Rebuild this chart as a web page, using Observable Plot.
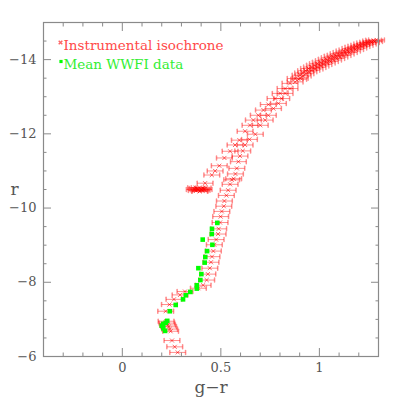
<!DOCTYPE html>
<html>
<head>
<meta charset="utf-8">
<script src="https://cdn.jsdelivr.net/npm/d3@7"></script>
<script src="https://cdn.jsdelivr.net/npm/@observablehq/plot@0.6"></script>
<style>
  html, body { margin: 0; padding: 0; background: #fff; }
</style>
</head>
<body>
<div id="chart"></div>
<script>
// Instrumental isochrone (red, with horizontal error bars)
const isoX = [
  0.281, 0.266, 0.252,
  0.245, 0.240, 0.235, 0.230, 0.226, 0.222,
  0.220, 0.239, 0.262, 0.293, 0.318, 0.386, 0.410,
  0.428, 0.434, 0.444, 0.450, 0.455, 0.462, 0.467, 0.476, 0.486, 0.489,
  0.496, 0.499, 0.505, 0.515, 0.518,
  0.528, 0.537, 0.547, 0.555, 0.565, 0.574, 0.581, 0.589, 0.597, 0.611,
  0.623, 0.645, 0.675, 0.700, 0.725, 0.741, 0.767, 0.792, 0.809, 0.826,
  0.851, 0.877, 0.895,
  0.365, 0.375, 0.380, 0.385, 0.390, 0.395, 0.400, 0.405, 0.410, 0.415, 0.372, 0.392,
  0.420, 0.454, 0.471, 0.492, 0.518, 0.547, 0.572, 0.594, 0.623, 0.648,
  0.665, 0.690, 0.716, 0.741, 0.775, 0.801, 0.826, 0.851, 0.877,
  0.902, 0.915, 0.930, 0.945, 0.960, 0.975, 0.990, 1.005, 1.020, 1.035,
  1.050, 1.065, 1.080, 1.095, 1.110, 1.125, 1.140, 1.155, 1.170, 1.185,
  1.200, 1.215, 1.230, 1.245, 1.260, 1.275, 1.290,
  0.903, 0.918, 0.932, 0.947, 0.962, 0.978, 0.993, 1.008, 1.023, 1.040,
  1.056, 1.072, 1.088, 1.104, 1.120, 1.136, 1.152, 1.168, 1.184, 1.200,
  1.216, 1.232, 1.248, 1.264, 1.280
];
const isoY = [
  -6.11, -6.26, -6.43,
  -6.68, -6.74, -6.80, -6.85, -6.90, -6.95,
  -7.22, -7.40, -7.54, -7.66, -7.75, -7.84, -7.92,
  -8.06, -8.22, -8.38, -8.54, -8.69, -8.84, -9.01, -9.15, -9.30, -9.44,
  -9.61, -9.77, -9.91, -10.05, -10.19,
  -10.34, -10.48, -10.64, -10.76, -10.79, -10.92, -11.07, -11.25, -11.40, -11.54,
  -11.70, -11.85, -11.99, -12.23, -12.37, -12.50, -12.68, -12.82, -12.95, -13.09,
  -13.22, -13.40, -13.47,
  -10.50, -10.47, -10.53, -10.49, -10.55, -10.46, -10.51, -10.48, -10.54, -10.50, -10.55, -10.45,
  -10.67, -10.89, -11.00, -11.14, -11.35, -11.53, -11.70, -11.83, -12.07, -12.23,
  -12.37, -12.50, -12.64, -12.79, -12.95, -13.09, -13.22, -13.36, -13.49,
  -13.58, -13.64, -13.70, -13.76, -13.80, -13.85, -13.89, -13.93, -13.97, -14.01,
  -14.05, -14.09, -14.12, -14.16, -14.19, -14.23, -14.26, -14.30, -14.33, -14.36,
  -14.39, -14.42, -14.45, -14.47, -14.50, -14.52, -14.53,
  -13.50, -13.56, -13.62, -13.67, -13.71, -13.75, -13.79, -13.83, -13.87, -13.91,
  -13.95, -13.99, -14.03, -14.07, -14.11, -14.15, -14.19, -14.23, -14.27, -14.31,
  -14.35, -14.39, -14.42, -14.46, -14.49
];
const isoErrHalf = 0.04;

// Mean WWFI data (green squares)
const wwfiX = [
  0.482, 0.455, 0.454, 0.408, 0.457, 0.430, 0.421, 0.418, 0.386, 0.401,
  0.396, 0.378, 0.378, 0.345, 0.322, 0.308, 0.271, 0.241,
  0.228, 0.220, 0.208, 0.200, 0.208, 0.217
];
const wwfiY = [
  -9.60, -9.44, -9.30, -9.15, -9.01, -8.84, -8.68, -8.53, -8.38, -8.22,
  -8.06, -7.92, -7.83, -7.74, -7.65, -7.54, -7.39, -7.22,
  -6.96, -6.91, -6.88, -6.83, -6.76, -6.69
];

// Axes
const xMajor = [0, 0.5, 1];
const xMinor = [-0.3, -0.2, -0.1, 0.1, 0.2, 0.3, 0.4, 0.6, 0.7, 0.8, 0.9, 1.1, 1.2];
const yMajor = [-6, -8, -10, -12, -14];
const yMinor = [-6.5, -7, -7.5, -8.5, -9, -9.5, -10.5, -11, -11.5, -12.5, -13, -13.5, -14.5];
const xTitle = "g\u2212r";
const yTitle = "r";
const legendLabels = ["Instrumental isochrone", "Mean WWFI data"];

const iso = isoX.map((x, i) => ({x, y: isoY[i], lo: x - isoErrHalf, hi: x + isoErrHalf}));
const wwfi = wwfiX.map((x, i) => ({x, y: wwfiY[i]}));

const fmt = d => (d < 0 ? "\u2212" + Math.abs(d) : String(d));
const frameColor = "#8a8a8a";
const textColor = "#555";
const red = "#ff0000";
const green = "#00ff00";
const capShape = {draw(ctx, l) { ctx.moveTo(0, -l / 2); ctx.lineTo(0, l / 2); }};

const tickAxes = [];
for (const anchor of ["bottom", "top"]) {
  tickAxes.push(Plot.axisX(xMinor, {anchor, tickSize: -3.5, fill: "none", label: null, stroke: frameColor}));
  tickAxes.push(Plot.axisX(xMajor, {anchor, tickSize: -8, fill: "none", label: null, stroke: frameColor}));
}
for (const anchor of ["left", "right"]) {
  tickAxes.push(Plot.axisY(yMinor, {anchor, tickSize: -3.5, fill: "none", label: null, stroke: frameColor}));
  tickAxes.push(Plot.axisY(yMajor, {anchor, tickSize: -8, fill: "none", label: null, stroke: frameColor}));
}

const chart = Plot.plot({
  width: 399,
  height: 399,
  marginLeft: 43,
  marginRight: 21,
  marginTop: 22,
  marginBottom: 43,
  x: {domain: [-0.4, 1.3]},
  y: {domain: [-6, -15]},
  style: {fontFamily: "DejaVu Serif", background: "#fff"},
  marks: [
    // error bars
    Plot.link(iso, {x1: "lo", x2: "hi", y1: "y", y2: "y", stroke: red, strokeOpacity: 0.45, strokeWidth: 1}),
    Plot.vector(iso, {x: "lo", y: "y", length: 4, rotate: 0, anchor: "start", shape: capShape, stroke: red, strokeOpacity: 0.45}),
    Plot.vector(iso, {x: "hi", y: "y", length: 4, rotate: 0, anchor: "start", shape: capShape, stroke: red, strokeOpacity: 0.45}),
    Plot.dot(iso, {x: "x", y: "y", symbol: "times", r: 2, stroke: red, strokeOpacity: 0.6, strokeWidth: 1}),
    // WWFI
    Plot.dot(wwfi, {x: "x", y: "y", symbol: "square", r: 2.6, fill: green, stroke: "none"}),
    // frame and ticks
    Plot.frame({stroke: frameColor, strokeWidth: 1.2}),
    ...tickAxes,
    Plot.axisX(xMajor, {anchor: "bottom", tickSize: 0, tickPadding: 6, tickFormat: fmt, fontSize: 13, fill: textColor, label: null}),
    Plot.axisY(yMajor, {anchor: "left", tickSize: 0, tickPadding: 7, tickFormat: fmt, fontSize: 13, fill: textColor, label: null}),
    Plot.text([xTitle], {frameAnchor: "bottom", dy: 36, fontSize: 17, fill: textColor}),
    Plot.text([yTitle], {frameAnchor: "left", dx: -33, fontSize: 17, fill: textColor}),
    // legend
    Plot.dot([legendLabels[0]], {frameAnchor: "top-left", dx: 17, dy: 20, symbol: "times", r: 1.8, stroke: red, strokeOpacity: 0.6}),
    Plot.text([legendLabels[0]], {frameAnchor: "top-left", dx: 20, dy: 18, textAnchor: "start", fontSize: 13.5, fill: "#ff4a4a"}),
    Plot.dot([legendLabels[1]], {frameAnchor: "top-left", dx: 17.5, dy: 39, symbol: "square", r: 1.8, fill: green}),
    Plot.text([legendLabels[1]], {frameAnchor: "top-left", dx: 20, dy: 37, textAnchor: "start", fontSize: 13.5, fill: "#33ee33"})
  ]
});
document.getElementById("chart").appendChild(chart);
</script>
</body>
</html>
